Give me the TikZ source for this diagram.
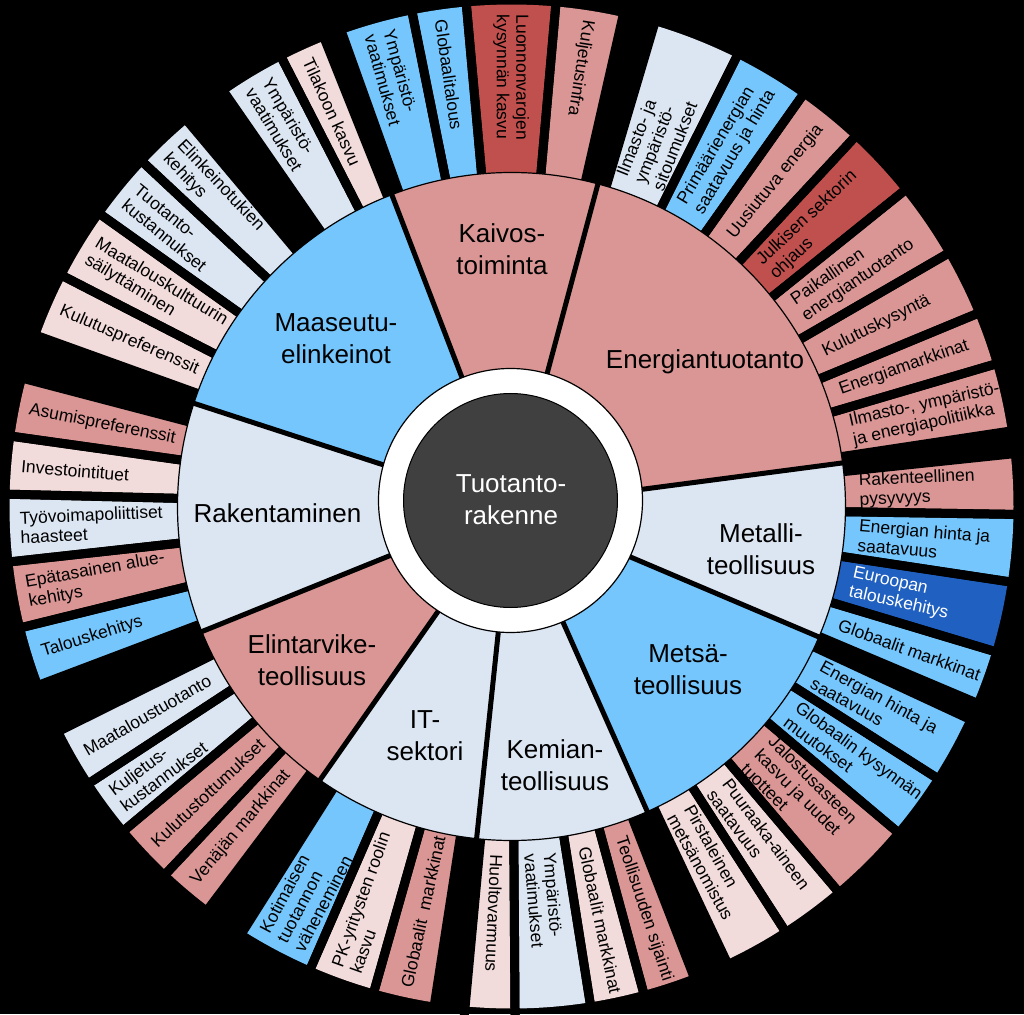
\documentclass[tikz,border=0pt]{standalone}
\usepackage{fontspec}
\setmainfont{Liberation Sans}
\definecolor{salmon}{RGB}{217,150,148}
\definecolor{lpink}{RGB}{242,220,219}
\definecolor{dred}{RGB}{192,80,77}
\definecolor{lblue}{RGB}{117,198,252}
\definecolor{gblue}{RGB}{220,230,242}
\definecolor{dblue}{RGB}{32,96,192}
\definecolor{coregrey}{RGB}{64,64,64}
\def\outerdata{%
73.5/63.4/gblue/0/black/{Ilmasto- ja\\ympäristö-\\sitoumukset},
63.4/54.7/lblue/0/black/{Primäärienergian\\saatavuus ja hinta},
54.7/47.1/salmon/0/black/{Uusiutuva energia},
47.1/38.8/dred/0/black/{Julkisen sektorin\\ohjaus},
38.8/30.1/salmon/0/black/{Paikallinen\\energiantuotanto},
30.1/22.5/salmon/0/black/{Kulutuskysyntä},
22.5/16.4/salmon/0/black/{Energiamarkkinat},
16.4/8.6/salmon/0/black/{Ilmasto-, ympäristö-\\ja energiapolitiikka},
6.0/-0.9/salmon/0/black/{Rakenteellinen\\pysyvyys},
-0.9/-8.6/lblue/0/black/{Energian hinta ja\\saatavuus},
-8.6/-16.7/dblue/0/white/{Euroopan\\talouskehitys},
-16.7/-22.9/lblue/0/black/{Globaalit markkinat},
-24.9/-32.55/lblue/0/black/{Energian hinta ja\\saatavuus},
-32.55/-40.14/lblue/0/black/{Globaalin kysynnän\\muutokset},
-40.14/-49.69/salmon/0/black/{Jalostusasteen\\kasvu ja uudet\\tuotteet},
-49.69/-57.2/lpink/0/black/{Puuraaka-aineen\\saatavuus},
-57.2/-64.7/lpink/0/black/{Pirstaleinen\\metsänomistus},
-68.8/-74.8/salmon/0/black/{Teollisuuden sijainti},
-74.8/-81.0/lpink/0/black/{Globaalit markkinat},
-81.0/-89.6/gblue/0/black/{Ympäristö-\\vaatimukset},
-89.6/-95.3/lpink/0/black/{Huoltovarmuus},
-98.8/-105.83/salmon/1/black/{Globaalit\ \ markkinat},
-105.83/-113.51/lpink/1/black/{PK-yritysten roolin\\kasvu},
-113.51/-122.3/lblue/1/black/{Kotimaisen\\tuotannon\\väheneminen},
-127.0/-133.26/salmon/1/black/{Venäjän markkinat},
-133.26/-140.1/salmon/1/black/{Kulutustottumukset},
-140.1/-146.77/gblue/1/black/{Kuljetus-\\kustannukset},
-146.77/-153.6/gblue/1/black/{Maataloustuotanto},
-159.3/-166.12/lblue/1/black/{Talouskehitys},
-166.12/-173.7/salmon/1/black/{Epätasainen alue-\\kehitys},
186.3/178.6/gblue/1/black/{Työvoimapoliittiset\\haasteet},
178.6/172.0/lpink/1/black/{Investointituet},
172.0/165.3/salmon/1/black/{Asumispreferenssit},
160.2/152.8/lpink/1/black/{Kulutuspreferenssit},
152.8/144.6/lpink/1/black/{Maatalouskulttuurin\\säilyttäminen},
144.6/136.95/gblue/1/black/{Tuotanto-\\kustannukset},
136.95/130.06/gblue/1/black/{Elinkeinotukien\\kehitys},
124.74/117.13/gblue/1/black/{Ympäristö-\\vaatimukset},
117.13/111.8/lpink/1/black/{Tilakoon kasvu},
109.7/101.37/lblue/1/black/{Ympäristö-\\vaatimukset},
101.37/95.14/lblue/1/black/{Globaalitalous},
95.14/84.95/dred/1/black/{Luonnonvarojen\\kysynnän kasvu},
84.95/77.2/salmon/1/black/{Kuljetusinfra}}
\begin{document}
\begin{tikzpicture}[x=1pt,y=1pt,
  outsep/.style={line width=9pt, draw=black},
  insep/.style={line width=5pt, draw=black},
  sectorbox/.style={draw=black, line width=1.2pt},
  outlabel/.style={inner sep=0pt, align=left, anchor=west, font=\fontsize{17.5}{19.5}\selectfont},
  inlabel/.style={inner sep=0pt, align=center, font=\fontsize{26}{32}\selectfont},
]
\useasboundingbox (-511.5,-507.5) rectangle (512.5,506.5);
\fill[black] (-511.5,-507.5) rectangle (512.5,506.5);
% outer segments
\foreach \a/\b/\c/\m/\tc/\t in \outerdata {
  \fill[\c] (\a:330) -- (\a:502) arc[start angle=\a, end angle=\b, radius=502] -- (\b:330) -- cycle;
}
\foreach \a/\b/\c/\m/\tc/\t in \outerdata {
  \draw[outsep] (\a:326) -- (\a:512);
  \draw[outsep] (\b:326) -- (\b:512);
}
% inner ring
\foreach \a/\b/\c in {7.5/75/salmon, 75/111/salmon, 111/162/lblue, 162/202/gblue, 202/235/salmon, 235/264/gblue, 264/294/gblue, 294/337/lblue, 337/367.5/gblue}{
  \filldraw[sectorbox, fill=\c] (\a:118) -- (\a:334) arc[start angle=\a, end angle=\b, radius=334] -- (\b:118) -- cycle;
}
\foreach \a in {7.5,75,111,162,202,235,264,294,337}{
  \draw[insep] (\a:122) -- (\a:336);
}
\filldraw[fill=white, draw=black, line width=1.2pt] (-1,6) circle (132);
\filldraw[fill=coregrey, draw=black, line width=1pt] (-1,6) circle (107);
% outer labels
\foreach \a/\b/\c/\m/\tc/\t [count=\i] in \outerdata {
  \pgfmathsetmacro\mid{(\a+\b)/2}
  \pgfmathsetmacro\rr{\m==1 ? 492 : 348}
  \pgfmathsetmacro\rot{\mid+180*\m}
  \node[outlabel, text=\tc, rotate=\rot] (o\i) at (\mid:\rr) {\t};
}
% inner labels
\node[inlabel] (energia) at (193.5,144.5) {Energiantuotanto};
\node[inlabel] (kaivos) at (-9.5,257.5) {Kaivos-\\toiminta};
\node[inlabel] (maaseutu) at (-175.5,168) {Maaseutu-\\elinkeinot};
\node[inlabel] (rakent) at (-234,-6.5) {Rakentaminen};
\node[inlabel] (elint) at (-199.5,-153.5) {Elintarvike-\\teollisuus};
\node[inlabel] (itsek) at (-86.5,-229.5) {IT-\\sektori};
\node[inlabel] (kemia) at (43.5,-258.5) {Kemian-\\teollisuus};
\node[inlabel] (metsa) at (176.5,-163) {Metsä-\\teollisuus};
\node[inlabel] (metalli) at (249.5,-42.5) {Metalli-\\teollisuus};
\node[inlabel, text=white] (core) at (-0.5,6.5) {Tuotanto-\\rakenne};
\end{tikzpicture}
\end{document}
